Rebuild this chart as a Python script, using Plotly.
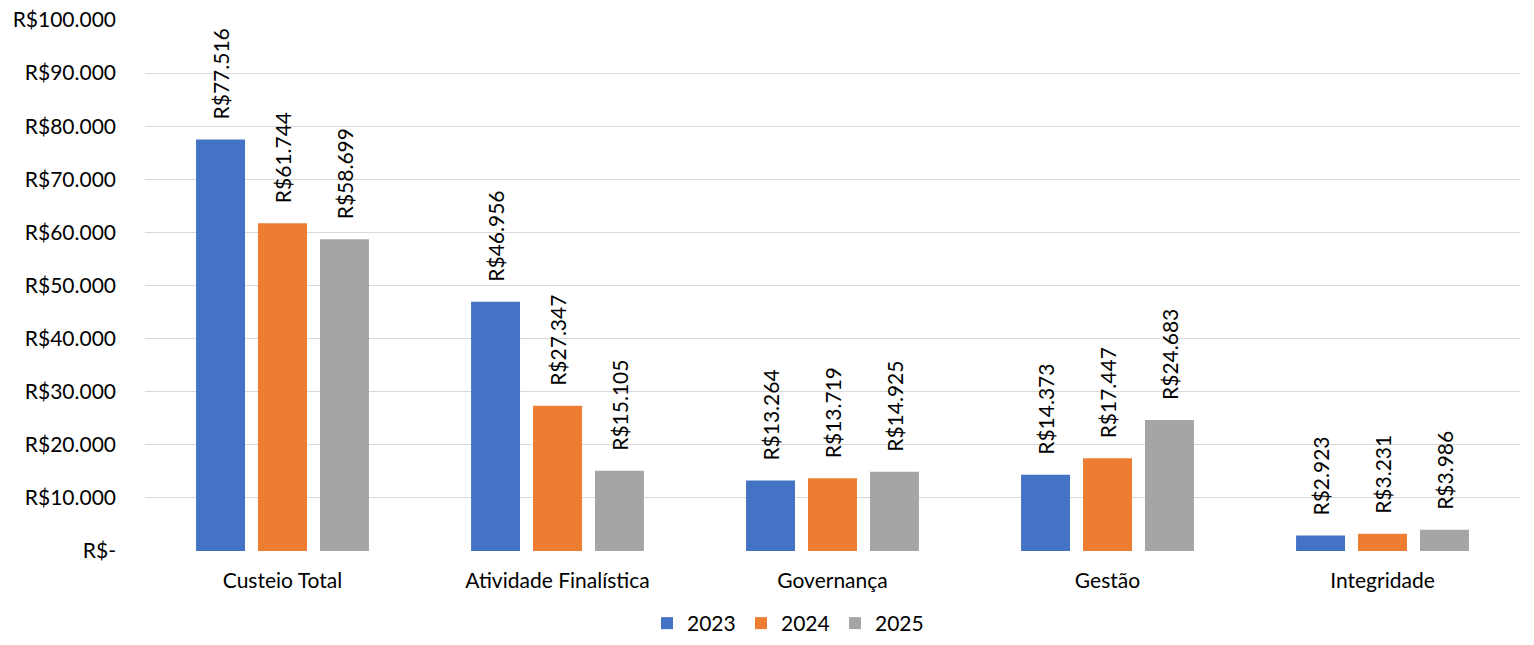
import plotly.graph_objects as go

categories = ["Custeio Total", "Atividade Finalística", "Governança", "Gestão", "Integridade"]
series_names = ["2023", "2024", "2025"]
v2023 = [77516, 46956, 13264, 14373, 2923]
v2024 = [61744, 27347, 13719, 17447, 3231]
v2025 = [58699, 15105, 14925, 24683, 3986]
colors = ["#4472C4", "#ED7D31", "#A5A5A5"]
tick_values = [0, 10000, 20000, 30000, 40000, 50000, 60000, 70000, 80000, 90000, 100000]
tick_labels = ["R$-", "R$10.000", "R$20.000", "R$30.000", "R$40.000", "R$50.000",
               "R$60.000", "R$70.000", "R$80.000", "R$90.000", "R$100.000"]

def fmt(v):
    return "R$" + f"{v:,}".replace(",", ".")

FONT = "Lato"
FS = 21
W, H = 1534, 645
ML, MR, MT, MB = 145, 14, 20, 94
plot_w = W - ML - MR
plot_h = H - MT - MB
cat_w = plot_w / len(categories)
bargap = 0.324
slot = cat_w * (1 - bargap) / 3

fig = go.Figure()
all_vals = [v2023, v2024, v2025]
for name, vals, c in zip(series_names, all_vals, colors):
    fig.add_trace(go.Bar(x=categories, y=vals, name=name, marker_color=c,
                         marker_line_width=0))

annotations = []
for i, vals in enumerate(all_vals):
    for cat, v in zip(categories, vals):
        annotations.append(dict(x=cat, y=v, xref="x", yref="y", text=fmt(v),
                                showarrow=False, textangle=-90, yanchor="bottom",
                                xanchor="center", xshift=(i - 1) * slot, yshift=18,
                                font=dict(family=FONT, size=FS, color="#000000")))

fig.update_layout(
    width=W, height=H,
    margin=dict(l=ML, r=MR, t=MT, b=MB, autoexpand=False),
    plot_bgcolor="white", paper_bgcolor="white",
    barmode="group", bargap=bargap, bargroupgap=0.21,
    font=dict(family=FONT, size=FS, color="#000000"),
    annotations=annotations,
    legend=dict(orientation="h", x=(788 - ML) / plot_w, xanchor="center",
                y=-(MB - 1) / plot_h, yanchor="bottom",
                font=dict(family=FONT, size=FS), traceorder="normal",
                itemwidth=30, entrywidth=49, entrywidthmode="pixels"),
    xaxis=dict(showgrid=False, showline=False, ticks="", tickfont=dict(size=FS),
               automargin=False),
    yaxis=dict(range=[0, 100000], tickvals=tick_values, ticktext=tick_labels,
               showgrid=True, gridcolor="#D9D9D9", gridwidth=1.3, zeroline=False,
               showline=False, ticks="", ticklen=0, tickfont=dict(size=FS),
               automargin=False, ticklabeloverflow="allow"),
)
fig.update_yaxes(ticklabelstandoff=28)
fig.update_xaxes(ticklabelstandoff=15)

fig.write_html("out.html", config={"displayModeBar": False},
               post_script="document.body.style.margin='0';document.body.style.overflow='hidden';")
